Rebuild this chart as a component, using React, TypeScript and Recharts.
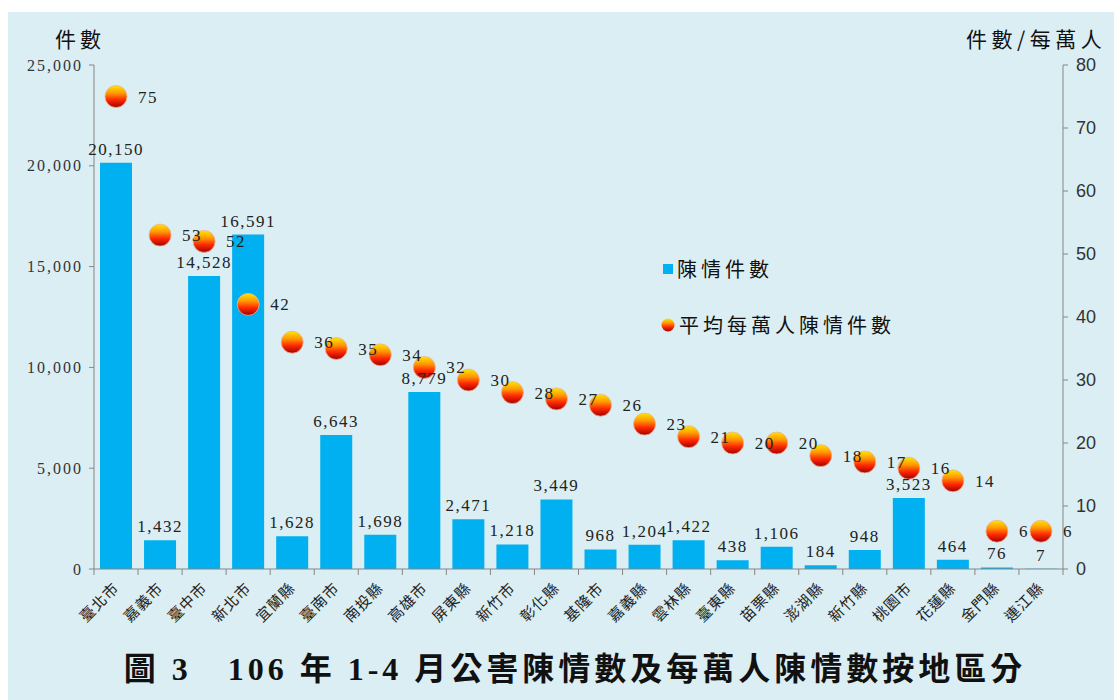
import React from 'react';
import { ComposedChart, Bar, Line, XAxis, YAxis, LabelList } from 'recharts';

const regions = ['臺北市', '嘉義市', '臺中市', '新北市', '宜蘭縣', '臺南市', '南投縣', '高雄市', '屏東縣', '新竹市', '彰化縣', '基隆市', '嘉義縣', '雲林縣', '臺東縣', '苗栗縣', '澎湖縣', '新竹縣', '桃園市', '花蓮縣', '金門縣', '連江縣'];
const complaints = [20150, 1432, 14528, 16591, 1628, 6643, 1698, 8779, 2471, 1218, 3449, 968, 1204, 1422, 438, 1106, 184, 948, 3523, 464, 76, 7];
const perTenThousand = [75, 53, 52, 42, 36, 35, 34, 32, 30, 28, 27, 26, 23, 21, 20, 20, 18, 17, 16, 14, 6, 6];
const leftTicks = [0, 5000, 10000, 15000, 20000, 25000];
const rightTicks = [0, 10, 20, 30, 40, 50, 60, 70, 80];

const data = regions.map((name, i) => ({ name, count: complaints[i], rate: perTenThousand[i] }));

const W = 1114;
const H = 700;
const PLOT_LEFT = 94;
const PLOT_RIGHT = 1063;
const halfBand = (PLOT_RIGHT - PLOT_LEFT) / regions.length / 2;

const numFont = "'Liberation Serif', 'DejaVu Serif', serif";
const cjkFont = "'Noto Sans CJK TC', 'Noto Sans CJK SC', sans-serif";
const axisGray = '#868686';

const fmt = (v: number) => v.toLocaleString('en-US');

const Sphere = (props: any) => {
  const { cx, cy } = props;
  if (cx == null || cy == null) return <g />;
  return <circle cx={cx} cy={cy} r={11} fill="url(#sphereGrad)" stroke="#e9b49a" strokeWidth={0.8} />;
};

const CategoryTick = (props: any) => {
  const { x, y, payload, index } = props;
  return (
    <g>
      <line x1={x - halfBand} x2={x - halfBand} y1={y - 8} y2={y - 2} stroke={axisGray} />
      {index === regions.length - 1 && (
        <line x1={x + halfBand} x2={x + halfBand} y1={y - 8} y2={y - 2} stroke={axisGray} />
      )}
      <text
        x={x + 4}
        y={y + 12}
        transform={`rotate(-45 ${x + 4} ${y + 12})`}
        textAnchor="end"
        fontFamily={cjkFont}
        fontSize={15}
        letterSpacing={1}
        fill="#222"
      >
        {payload.value}
      </text>
    </g>
  );
};

const RateLabel = (props: any) => {
  const { x, y, value } = props;
  return (
    <text x={x + 22} y={y + 6} fontFamily={numFont} fontSize={17} letterSpacing={1.5} fill="#222">
      {value}
    </text>
  );
};

const gradStops = (
  <>
    <stop offset="0%" stopColor="#ffe600" />
    <stop offset="35%" stopColor="#ff9800" />
    <stop offset="65%" stopColor="#ff2a00" />
    <stop offset="100%" stopColor="#a00000" />
  </>
);

export default function App() {
  return (
    <div style={{ position: 'relative', width: W, height: H, background: '#fff', overflow: 'hidden' }}>
      <style>{'body{margin:0}'}</style>
      <div style={{ position: 'absolute', left: 8, top: 12, width: W - 8, height: H - 12, background: '#DAEEF3' }} />
      <div style={{ position: 'absolute', left: 0, top: 0 }}>
        <ComposedChart width={W} height={H} data={data} margin={{ top: 65, right: 0, left: 0, bottom: 51 }}>
          <defs>
            <linearGradient id="sphereGrad" x1="0" y1="0" x2="0" y2="1">
              {gradStops}
            </linearGradient>
          </defs>
          <XAxis
            dataKey="name"
            height={80}
            interval={0}
            axisLine={{ stroke: axisGray }}
            tickLine={false}
            tick={<CategoryTick />}
          />
          <YAxis
            yAxisId="left"
            width={94}
            domain={[0, 25000]}
            ticks={leftTicks}
            tickFormatter={fmt}
            axisLine={{ stroke: axisGray }}
            tickLine={{ stroke: axisGray }}
            tickSize={5}
            tick={{ fontFamily: numFont, fontSize: 16, fill: '#333', letterSpacing: 2, dx: -4 }}
          />
          <YAxis
            yAxisId="right"
            orientation="right"
            width={51}
            domain={[0, 80]}
            ticks={rightTicks}
            axisLine={{ stroke: axisGray }}
            tickLine={{ stroke: axisGray }}
            tickSize={5}
            tick={{ fontFamily: "'Liberation Sans Narrow', 'Liberation Sans', sans-serif", fontSize: 18, fill: '#333', dx: 6 }}
          />
          <Bar yAxisId="left" dataKey="count" fill="#00B0F0" barSize={32} isAnimationActive={false}>
            <LabelList
              dataKey="count"
              position="top"
              offset={8}
              formatter={(v: any) => fmt(Number(v))}
              style={{ fontFamily: numFont, fontSize: 17, fill: '#222', letterSpacing: 1.5 }}
            />
          </Bar>
          <Line
            yAxisId="right"
            dataKey="rate"
            stroke="none"
            dot={<Sphere />}
            activeDot={false}
            isAnimationActive={false}
          >
            <LabelList dataKey="rate" content={<RateLabel />} />
          </Line>
        </ComposedChart>
      </div>
      <div style={{ position: 'absolute', left: 55, top: 23, fontFamily: cjkFont, fontSize: 21, letterSpacing: 4, color: '#111' }}>件數</div>
      <div style={{ position: 'absolute', left: 966, top: 23, fontFamily: cjkFont, fontSize: 21, letterSpacing: 4.5, color: '#111', whiteSpace: 'nowrap' }}>件數/每萬人</div>
      <div style={{ position: 'absolute', left: 663, top: 254, display: 'flex', alignItems: 'center', fontFamily: cjkFont, fontSize: 20, letterSpacing: 4, color: '#111' }}>
        <span style={{ display: 'inline-block', width: 10, height: 10, background: '#00B0F0', marginRight: 4 }} />
        陳情件數
      </div>
      <div style={{ position: 'absolute', left: 661, top: 310, display: 'flex', alignItems: 'center', fontFamily: cjkFont, fontSize: 20, letterSpacing: 4, color: '#111' }}>
        <svg width={14} height={14} style={{ marginRight: 4 }}>
          <defs>
            <linearGradient id="legendGrad" x1="0" y1="0" x2="0" y2="1">
              {gradStops}
            </linearGradient>
          </defs>
          <circle cx={7} cy={7} r={6.5} fill="url(#legendGrad)" />
        </svg>
        平均每萬人陳情件數
      </div>
      <div
        style={{
          position: 'absolute',
          left: 0,
          width: 1150,
          top: 643,
          textAlign: 'center',
          fontFamily: "'Liberation Serif', 'Noto Sans CJK TC', serif",
          fontWeight: 'bold',
          fontSize: 32,
          letterSpacing: 4,
          color: '#111',
          whiteSpace: 'pre',
        }}
      >
        {'圖 3　106 年 1-4 月公害陳情數及每萬人陳情數按地區分'}
      </div>
    </div>
  );
}
